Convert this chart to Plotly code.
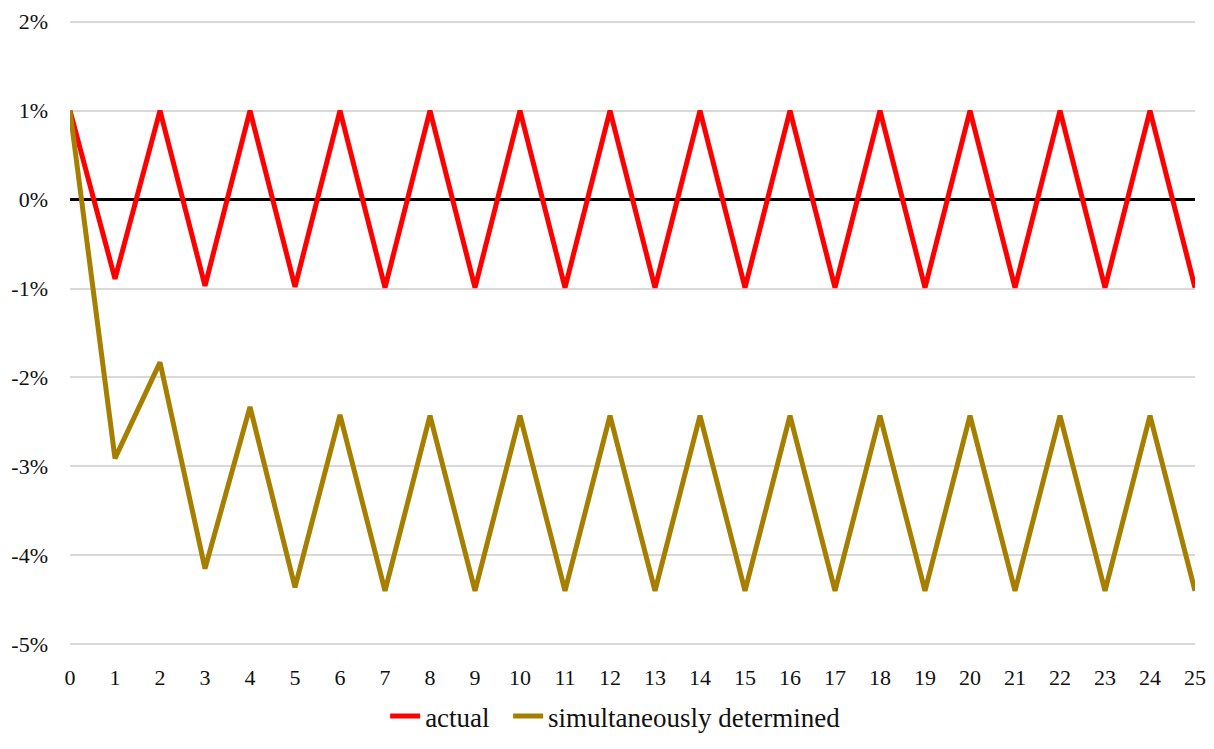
import plotly.graph_objects as go

periods = list(range(26))
actual = [1.0, -0.89, 1.0, -0.97, 1.0, -0.98, 1.0, -0.99, 1.0, -0.99, 1.0, -0.99, 1.0,
          -0.99, 1.0, -0.99, 1.0, -0.99, 1.0, -0.99, 1.0, -0.99, 1.0, -0.99, 1.0, -0.99]
simultaneous = [1.0, -2.91, -1.83, -4.15, -2.33, -4.36, -2.42, -4.40, -2.43, -4.40, -2.43,
                -4.40, -2.43, -4.40, -2.43, -4.40, -2.43, -4.40, -2.43, -4.40, -2.43, -4.40,
                -2.43, -4.40, -2.43, -4.40]
y_ticks = [2, 1, 0, -1, -2, -3, -4, -5]

FONT = "Palatino Linotype, Book Antiqua, Palatino, Liberation Serif, serif"
PAD = "\u00a0\u00a0"

fig = go.Figure()
fig.add_trace(go.Scatter(x=periods, y=actual, mode="lines", name="actual" + PAD,
                         line=dict(color="#FF0000", width=5)))
fig.add_trace(go.Scatter(x=periods, y=simultaneous, mode="lines", name="simultaneously determined",
                         line=dict(color="#A67F00", width=5)))

fig.update_layout(
    width=1198, height=733,
    margin=dict(l=62, r=11, t=12, b=95),
    paper_bgcolor="white", plot_bgcolor="white",
    font=dict(family=FONT, size=22, color="#111111"),
    showlegend=True,
    legend=dict(orientation="h", x=0.485, xanchor="center", xref="paper",
                y=-0.02, yanchor="bottom", yref="container",
                font=dict(size=27)),
    xaxis=dict(range=[0, 25], tickmode="array", tickvals=periods, ticktext=[str(p) for p in periods],
               showgrid=False, zeroline=False, showline=False, ticks="", ticklabelstandoff=16,
               automargin=False, ticklabeloverflow="allow"),
    yaxis=dict(range=[-5.02, 2.02], tickmode="array", tickvals=y_ticks,
               ticktext=[f"{v}%" for v in y_ticks], showgrid=True, gridcolor="#d9d9d9", gridwidth=1.5,
               zeroline=True, zerolinecolor="black", zerolinewidth=3, showline=False, ticks="",
               ticklabelstandoff=21, automargin=False, ticklabeloverflow="allow"),
)

fig.write_html("out.html")
